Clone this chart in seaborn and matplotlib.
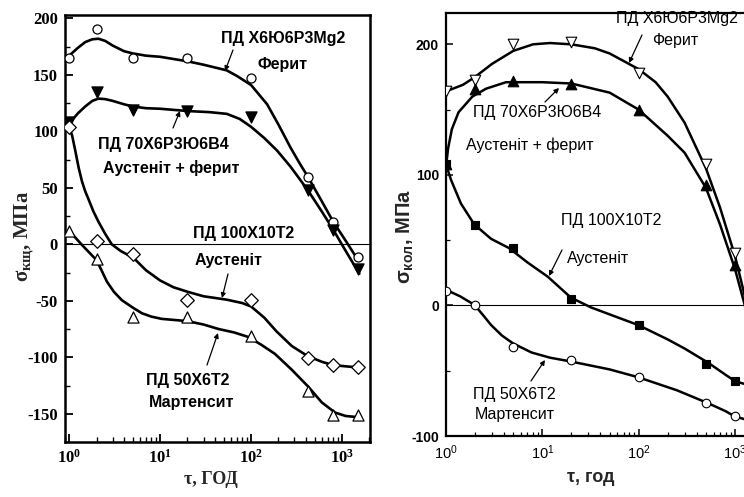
import numpy as np
import pandas as pd
import matplotlib
matplotlib.use("Agg")
import matplotlib.pyplot as plt
import seaborn as sns
from matplotlib.ticker import MultipleLocator, LogLocator, NullFormatter

sns.set_theme(style="ticks")
plt.rcParams['font.family'] = ['Liberation Sans', 'DejaVu Sans']
plt.rcParams['mathtext.default'] = 'regular'
plt.rcParams['axes.unicode_minus'] = False

# ---------------- data: left panel ----------------
L_t = [1, 2, 5, 20, 100, 420, 800, 1500]
L_ferrite = [165, 191, 165, 165, 147, 60, 20, -11]
L_aust_ferr = [108, 135, 119, 118, 113, 48, 13, -22]
L_austenite = [104, 3, -9, -49, -49, -101, -107, -109]
L_martensite = [12, -13, -64, -64, -81, -130, -151, -151]

# fitted curves
LC1_t = [1, 1.25, 1.5, 1.8, 2.1, 2.5, 3, 4, 5, 7, 10, 20, 30, 54, 70, 100, 150, 200, 270, 340, 420, 600, 800, 1100, 1500]
LC1_v = [167, 174, 179, 181.5, 182, 180, 176, 171, 169, 167, 166, 162, 159, 154, 149, 141, 124, 106, 86, 72, 60, 38, 20, 3, -14]
LC2_t = [1, 1.25, 1.5, 1.8, 2.1, 2.5, 3, 4, 5, 7, 10, 20, 35, 54, 75, 100, 140, 193, 270, 420, 600, 800, 1100, 1550]
LC2_v = [107, 116, 122, 127, 129, 128.5, 127, 124, 122, 120.5, 120, 118, 117, 115.5, 111, 104, 94, 83, 69, 48, 29, 13, -6, -26]
LC3_t = [1, 1.08, 1.16, 1.27, 1.38, 1.5, 1.63, 1.85, 2.1, 2.5, 2.94, 3.7, 5.1, 7, 10, 14, 20, 30, 54, 80, 100, 140, 190, 280, 420, 600, 800, 1500]
LC3_v = [104, 96, 84, 68, 56, 47, 40, 29, 20, 9, 0, -6, -12, -23, -32, -38, -42, -46, -49, -52, -55, -65, -77, -90, -99, -104, -107, -109]
LC4_t = [1, 1.4, 2, 2.3, 2.6, 3.1, 3.8, 5, 6.3, 8, 10.4, 20, 30, 44, 65, 93, 130, 183, 280, 425, 600, 840, 1100, 1500]
LC4_v = [12, -1, -14, -24, -33, -42, -49.5, -56, -61, -64, -66, -68, -71, -75, -78, -82, -89, -97, -111, -126, -140, -149, -152, -153]

# ---------------- data: right panel ----------------
R_t = [1, 2, 5, 20, 100, 500, 1000]
R_ferrite = [164, 173, 200, 202, 178, 108, 40]
R_aust_ferr = [108, 166, 172, 170, 150, 92, 31]
R_austenite = [108, 62, 44, 5, -15, -45, -58]
R_martensite = [11, 0, -32, -42, -55, -75, -85]

RC1_t = [1, 1.5, 2, 3, 5, 8, 12, 20, 35, 50, 100, 150, 200, 300, 500, 700, 1000, 1500]
RC1_v = [164, 169, 175, 185, 195, 200, 201, 200, 197, 193, 181, 171, 160, 140, 105, 75, 38, -15]
RC2_t = [1, 1.05, 1.15, 1.35, 1.88, 2.6, 4.2, 10, 20, 50, 100, 200, 300, 500, 700, 1000, 1500]
RC2_v = [106, 120, 135, 148, 160, 166, 171, 171, 170, 163, 150, 130, 117, 90, 62, 28, -20]
RC3_t = [1, 1.13, 1.43, 1.97, 2.94, 4.5, 7, 11.4, 19.8, 32, 55, 99, 200, 300, 530, 795, 1000, 1240, 1600]
RC3_v = [108, 96, 78, 62, 51, 44, 33, 22, 6, -1.5, -8, -15, -26, -33, -44, -53, -58, -60, -62]
RC4_t = [1, 1.4, 1.97, 2.4, 2.94, 3.8, 4.95, 7.7, 12, 20, 50, 99, 250, 530, 800, 995, 1240, 1600]
RC4_v = [12, 7, 0.5, -7, -15, -23, -29, -36, -40, -43, -49, -55, -65, -75, -81, -85, -87, -89]

W, H = 744, 497
fig = plt.figure(figsize=(W / 100, H / 100), dpi=100)
fig.patch.set_facecolor('white')


def P(x, y):
    return (x / W, 1 - y / H)


axL = fig.add_axes([65 / W, 1 - 442 / H, (370 - 65) / W, (442 - 15) / H])
axR = fig.add_axes([446 / W, 1 - 436 / H, (760 - 446) / W, (436 - 13) / H])

for ax in (axL, axR):
    ax.set_facecolor('white')
    ax.set_xscale('log')

SERIF = ['Liberation Serif', 'DejaVu Serif']
SANS = ['Liberation Sans', 'DejaVu Sans']
lt = [1, 10, 100, 1000]

# ---------- left panel ----------
for ct, cv in [(LC1_t, LC1_v), (LC2_t, LC2_v), (LC3_t, LC3_v), (LC4_t, LC4_v)]:
    sns.lineplot(x=ct, y=cv, ax=axL, color='black', lw=1.9, sort=False, estimator=None)
sns.scatterplot(x=L_t, y=L_ferrite, ax=axL, marker='o', color='white', edgecolor='black', s=42, linewidth=0.9, zorder=5)
sns.scatterplot(x=L_t, y=L_aust_ferr, ax=axL, marker='v', color='black', edgecolor='black', s=64, linewidth=0.9, zorder=5)
sns.scatterplot(x=L_t, y=L_austenite, ax=axL, marker='D', color='white', edgecolor='black', s=48, linewidth=0.9, zorder=5)
sns.scatterplot(x=L_t, y=L_martensite, ax=axL, marker='^', color='white', edgecolor='black', s=64, linewidth=0.9, zorder=5)
axL.axhline(0, color='black', lw=0.8, zorder=1)

axL.set_xlim(0.9, 2030)
axL.set_ylim(-175, 203)
axL.yaxis.set_minor_locator(MultipleLocator(25))
axL.set_xticks(lt, [f"$10^{{{int(np.log10(v))}}}$" for v in lt], fontfamily=SERIF, fontweight='bold', fontsize=12)
axL.xaxis.set_minor_locator(LogLocator(base=10, subs=np.arange(2, 10)))
axL.xaxis.set_minor_formatter(NullFormatter())
yt = [-150, -100, -50, 0, 50, 100, 150, 200]
axL.set_yticks(yt, [str(v) for v in yt], fontfamily=SERIF, fontweight='bold', fontsize=12)
axL.tick_params(which='major', direction='in', length=6, width=1.3, pad=5, colors='black')
axL.tick_params(which='minor', direction='in', length=3.5, width=1.0, colors='black')
for s in axL.spines.values():
    s.set_linewidth(1.8)
    s.set_color('black')
axL.set_xlabel('')
axL.set_ylabel('')

fig.text(*P(211, 479), 'τ, ГОД', ha='center', va='center', fontfamily=SERIF, fontweight='bold', fontsize=13)
fig.text(*P(24, 236), r'σ$_{кщ}$, МПа', ha='center', va='center', rotation=90,
         fontfamily=SERIF, fontweight='bold', fontsize=15)

bold_kw = dict(ha='center', va='center', fontfamily=SANS, fontweight='bold', fontsize=11.5, color='black')
for (x, y), s in [((283, 38), 'ПД Х6Ю6Р3Mg2'), ((283, 65), 'Ферит'),
                  ((163, 145), 'ПД 70Х6Р3Ю6В4'), ((171, 168), 'Аустеніт + ферит'),
                  ((244, 233), 'ПД 100Х10Т2'), ((229, 261), 'Аустеніт'),
                  ((188, 380), 'ПД 50Х6Т2'), ((192, 403), 'Мартенсит')]:
    fig.text(*P(x, y), s, **bold_kw)

arrow_kw = dict(arrowstyle='-|>', lw=0.9, color='black', mutation_scale=7, shrinkA=0, shrinkB=0)
for a, b in [((233, 50), (225, 71)), ((173, 128), (180, 111)),
             ((228, 274), (222, 298)), ((207, 365), (218, 333))]:
    axL.annotate('', xy=P(*b), xycoords='figure fraction', xytext=P(*a), textcoords='figure fraction',
                 arrowprops=arrow_kw)

# ---------- right panel ----------
for ct, cv in [(RC1_t, RC1_v), (RC2_t, RC2_v), (RC3_t, RC3_v), (RC4_t, RC4_v)]:
    sns.lineplot(x=ct, y=cv, ax=axR, color='black', lw=1.8, sort=False, estimator=None)
sns.scatterplot(x=R_t, y=R_ferrite, ax=axR, marker='v', color='white', edgecolor='black', s=58, linewidth=0.8, zorder=5)
sns.scatterplot(x=R_t, y=R_aust_ferr, ax=axR, marker='^', color='black', edgecolor='black', s=58, linewidth=0.8, zorder=5)
sns.scatterplot(x=R_t, y=R_austenite, ax=axR, marker='s', color='black', edgecolor='black', s=34, linewidth=0.8, zorder=5)
sns.scatterplot(x=R_t, y=R_martensite, ax=axR, marker='o', color='white', edgecolor='black', s=38, linewidth=0.8, zorder=5)
axR.axhline(0, color='black', lw=0.8, zorder=1)

axR.set_xlim(1, 1820)
axR.set_ylim(-100, 224)
axR.yaxis.set_minor_locator(MultipleLocator(50))
rty = [-100, 0, 100, 200]
axR.set_yticks(rty, [str(v) for v in rty], fontfamily=SANS, fontweight='bold', fontsize=10)
axR.set_xticks(lt, [f"$10^{{{int(np.log10(v))}}}$" for v in lt], fontfamily=SANS, fontsize=10.5)
axR.xaxis.set_minor_locator(LogLocator(base=10, subs=np.arange(2, 10)))
axR.xaxis.set_minor_formatter(NullFormatter())
axR.tick_params(which='major', direction='in', length=5, width=1.1, pad=5, colors='black')
axR.tick_params(which='minor', direction='in', length=3, width=0.9, colors='black')
for s in axR.spines.values():
    s.set_linewidth(1.6)
    s.set_color('black')
axR.set_xlabel('')
axR.set_ylabel('')

fig.text(*P(591, 478), 'τ, год', ha='center', va='center', fontfamily=SANS, fontweight='bold', fontsize=13)
fig.text(*P(405, 237), r'σ$_{кол}$, МПа', ha='center', va='center', rotation=90,
         fontfamily=SANS, fontweight='bold', fontsize=14.5)

reg_kw = dict(ha='center', va='center', fontfamily=SANS, fontsize=11.5, color='black')
for (x, y), s in [((677, 18), 'ПД Х6Ю6Р3Mg2'), ((675, 40), 'Ферит'),
                  ((537, 112), 'ПД 70Х6Р3Ю6В4'), ((530, 145), 'Аустеніт + ферит'),
                  ((611, 220), 'ПД 100Х10Т2'), ((598, 258), 'Аустеніт'),
                  ((514, 394), 'ПД 50Х6Т2'), ((515, 415), 'Мартенсит')]:
    fig.text(*P(x, y), s, **reg_kw)
for a, b in [((642, 35), (629, 63)), ((545, 102), (559, 88)),
             ((562, 250), (549, 276)), ((531, 381), (545, 360))]:
    axR.annotate('', xy=P(*b), xycoords='figure fraction', xytext=P(*a), textcoords='figure fraction',
                 arrowprops=arrow_kw)

fig.savefig('out.png', dpi=100, facecolor='white')
